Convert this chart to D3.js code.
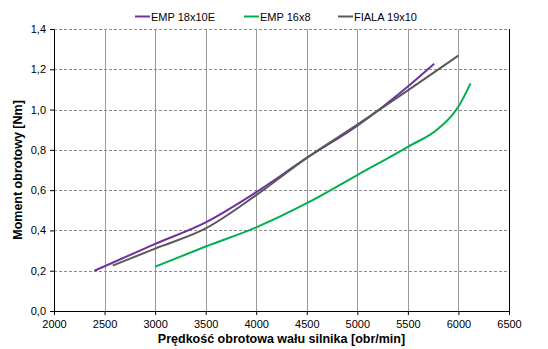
<!DOCTYPE html>
<html>
<head>
<meta charset="utf-8">
<script src="https://cdn.jsdelivr.net/npm/d3@7"></script>
<style>
  body { margin: 0; background: #fff; }
  text { font-family: "Liberation Sans", Arial, sans-serif; }
</style>
</head>
<body>
<div id="chart"></div>
<script>
// Data
const seriesNames = ["EMP 18x10E", "EMP 16x8", "FIALA 19x10"];
const seriesColors = ["#7030A0", "#00B050", "#595959"];

const rpmEmp18 = [2400, 3000, 3500, 4000, 4500, 5000, 5500, 5760];
const torqueEmp18 = [0.2, 0.333, 0.44, 0.59, 0.76, 0.92, 1.115, 1.228];

const rpmEmp16 = [3000, 3500, 4000, 4500, 5000, 5500, 5800, 5950, 6000, 6120];
const torqueEmp16 = [0.22, 0.32, 0.415, 0.535, 0.675, 0.815, 0.905, 0.98, 1.015, 1.13];

const rpmFiala = [2580, 3000, 3500, 4000, 4500, 5000, 5500, 6000];
const torqueFiala = [0.225, 0.31, 0.41, 0.575, 0.76, 0.925, 1.095, 1.268];

const xTicks = [2000, 2500, 3000, 3500, 4000, 4500, 5000, 5500, 6000, 6500];
const yTicks = [0, 0.2, 0.4, 0.6, 0.8, 1.0, 1.2, 1.4];

const series = [
  { name: seriesNames[0], color: seriesColors[0], xs: rpmEmp18, ys: torqueEmp18 },
  { name: seriesNames[1], color: seriesColors[1], xs: rpmEmp16, ys: torqueEmp16 },
  { name: seriesNames[2], color: seriesColors[2], xs: rpmFiala, ys: torqueFiala }
];

const W = 548, H = 349;
const margin = {top: 29, right: 39, bottom: 38, left: 54};
const width = W - margin.left - margin.right,
      height = H - margin.top - margin.bottom;

const svg = d3.select("#chart").append("svg")
  .attr("width", W).attr("height", H);

const g = svg.append("g")
  .attr("transform", `translate(${margin.left},${margin.top})`);

const x = d3.scaleLinear().domain([2000, 6500]).range([0, width]);
const y = d3.scaleLinear().domain([0, 1.4]).range([height, 0]);

// vertical grid (solid)
g.append("g").selectAll("line")
  .data(xTicks.slice(1, -1))
  .enter().append("line")
  .attr("x1", d => Math.round(x(d)) + 0.5).attr("x2", d => Math.round(x(d)) + 0.5)
  .attr("y1", 0).attr("y2", height)
  .attr("stroke", "#9a9a9a").attr("stroke-width", 1);

// horizontal grid (dashed)
g.append("g").selectAll("line")
  .data(yTicks.slice(1))
  .enter().append("line")
  .attr("x1", 0).attr("x2", width)
  .attr("y1", d => Math.round(y(d)) + 0.5).attr("y2", d => Math.round(y(d)) + 0.5)
  .attr("stroke", "#8c8c8c").attr("stroke-width", 1)
  .attr("stroke-dasharray", "3,2");

// right border
g.append("line")
  .attr("x1", width + 0.5).attr("x2", width + 0.5)
  .attr("y1", 0).attr("y2", height)
  .attr("stroke", "#000");

// axes
const fmt = d => d3.format(".1f")(d).replace(".", ",");
const xAxis = g.append("g")
  .attr("transform", `translate(0,${height})`)
  .call(d3.axisBottom(x).tickValues(xTicks).tickSize(4).tickSizeOuter(0).tickFormat(d3.format("d")));
const yAxis = g.append("g")
  .call(d3.axisLeft(y).tickValues(yTicks).tickSize(4).tickSizeOuter(0).tickFormat(fmt));

[xAxis, yAxis].forEach(a => {
  a.selectAll("path, line").attr("stroke", "#000");
  a.selectAll("text").attr("fill", "#000")
    .style("font-family", "'Liberation Sans', Arial, sans-serif")
    .style("font-size", "11px");
});
xAxis.selectAll("text").attr("dy", "0.9em");
yAxis.selectAll("text").attr("x", -8);

// lines
const line = d3.line()
  .x(d => x(d[0]))
  .y(d => y(d[1]))
  .curve(d3.curveMonotoneX);

series.forEach(s => {
  const pts = s.xs.map((v, i) => [v, s.ys[i]]);
  g.append("path")
    .datum(pts)
    .attr("fill", "none")
    .attr("stroke", s.color)
    .attr("stroke-width", 2)
    .attr("d", line);
});

// axis titles
svg.append("text")
  .attr("x", margin.left + width / 2).attr("y", 343)
  .attr("text-anchor", "middle")
  .style("font-size", "12.5px").style("font-weight", "bold")
  .text("Prędkość obrotowa wału silnika [obr/min]");

svg.append("text")
  .attr("transform", `translate(22,${margin.top + height / 2}) rotate(-90)`)
  .attr("text-anchor", "middle")
  .style("font-size", "12.5px").style("font-weight", "bold")
  .text("Moment obrotowy [Nm]");

// legend
const legendX = [135, 244, 338];
const legend = svg.append("g");
series.forEach((s, i) => {
  legend.append("line")
    .attr("x1", legendX[i]).attr("x2", legendX[i] + 15)
    .attr("y1", 16.5).attr("y2", 16.5)
    .attr("stroke", s.color).attr("stroke-width", 2);
  legend.append("text")
    .attr("x", legendX[i] + 16).attr("y", 20.5)
    .style("font-size", "11px")
    .text(s.name);
});
</script>
</body>
</html>
